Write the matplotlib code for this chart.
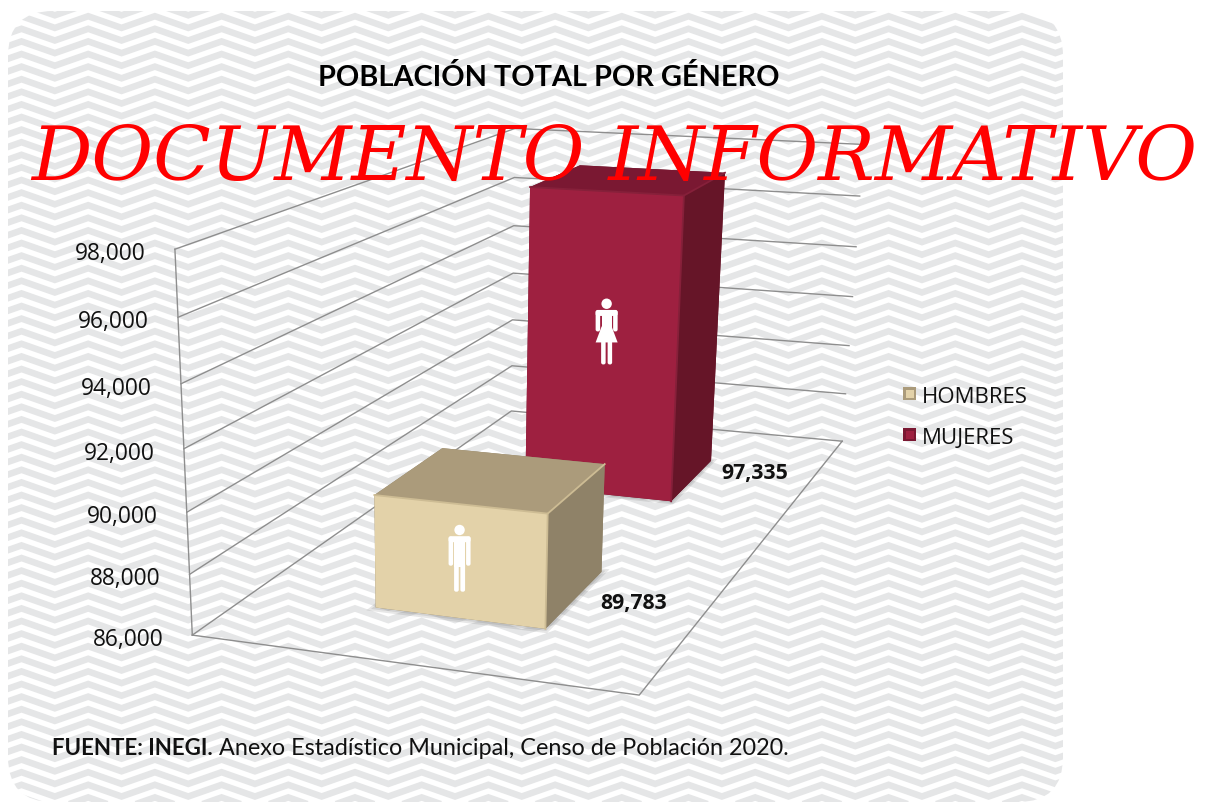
import numpy as np
import matplotlib
matplotlib.use("Agg")
import matplotlib.pyplot as plt
from matplotlib.patches import FancyBboxPatch, Circle, Polygon, Rectangle
from mpl_toolkits.mplot3d import proj3d
from mpl_toolkits.mplot3d.art3d import Poly3DCollection

categories = ["HOMBRES", "MUJERES"]
values = [89783, 97335]
value_labels = ["89,783", "97,335"]
z_ticks = [86000, 88000, 90000, 92000, 94000, 96000, 98000]
z_labels = ["86,000", "88,000", "90,000", "92,000", "94,000", "96,000", "98,000"]
front_colors = ["#E3D2A9", "#9E2040"]
top_colors = ["#AB9B7B", "#7A1832"]
side_colors = ["#8F8268", "#661528"]
bevel_colors = ["#CDBC94", "#86203A"]
title = "POBLACIÓN TOTAL POR GÉNERO"
source_bold = "FUENTE: INEGI."
source_rest = " Anexo Estadístico Municipal, Censo de Población 2020."
stamp = "DOCUMENTO INFORMATIVO"

# bars in axis fractions: one category wide, two series slots deep
x0, x1 = 0.30154, 0.70102
y_spans = [(0.14534, 0.34473), (0.64027, 0.83986)]

plt.rcParams["font.family"] = ["Open Sans", "DejaVu Sans"]

W, H = 1205, 803
fig = plt.figure(figsize=(W / 100, H / 100), dpi=100)
bg = fig.add_axes([0, 0, 1, 1], zorder=0)
bg.set_xlim(0, W)
bg.set_ylim(H, 0)
bg.axis("off")

# zigzag panel behind the chart
panel = FancyBboxPatch((8 + 45, 12 + 45), 1055 - 90, 791 - 90, boxstyle="round,pad=45,rounding_size=45",
                       facecolor="white", edgecolor="none")
bg.add_patch(panel)
zx = np.arange(-1, 36) * 33.35 - 11.85
zy_off = np.where(np.arange(-1, 36) % 2 == 0, 11.7, 0.0)
for y0 in np.arange(4.6 - 12.6 * 2, 830, 12.6):
    ln, = bg.plot(zx, y0 + zy_off, color="#E5E6E7", lw=4.7, solid_joinstyle="miter", zorder=1)
    ln.set_clip_path(panel)

# 3d chart, camera fitted to the reference box
ax = fig.add_axes([-0.03916, 0.03471, 1, 1], projection="3d", zorder=1, computed_zorder=False)
ax.set_axis_off()
ax.patch.set_visible(False)
ax.set_xlim(0, 1, view_margin=0)
ax.set_ylim(0, 1, view_margin=0)
ax.set_zlim(z_ticks[0], z_ticks[-1], view_margin=0)
ax.view_init(elev=16.75952, azim=-71.03744, roll=0)
ax.set_proj_type("persp", focal_length=0.39741)
ax.set_box_aspect((0.81816, 1.57542, 0.82936), zoom=1)
ax.apply_aspect()

# the source picture is stretched sideways, so add that on top of the camera
stretch = np.eye(4)
stretch[0, 0] = 1.20039
stretch[0, 1] = 0.02239
base_proj = ax.get_proj
ax.get_proj = lambda: stretch @ base_proj()

line_kw = dict(color="#8E8E8E", lw=1.0, zorder=1)
for t in z_ticks:
    ax.plot([0, 0, 1], [0, 1, 1], [t, t, t], **line_kw)
ax.plot([0, 1, 1], [0, 0, 1], [z_ticks[0]] * 3, **line_kw)
ax.plot([0, 0], [0, 0], [z_ticks[0], z_ticks[-1]], **line_kw)

for i, val in enumerate(values):
    ya, yb = y_spans[i]
    zb = z_ticks[0]
    base_z = 2 + 3 * (1 - i)
    for m in (0.012, 0.006):
        shadow = Poly3DCollection([[(x0 - m, ya - m, zb), (x1 + m, ya - m, zb),
                                    (x1 + m, yb + m, zb), (x0 - m, yb + m, zb)]],
                                  facecolor="#555555", alpha=0.14, edgecolor="none", zorder=base_z)
        ax.add_collection3d(shadow)
    cols = [side_colors[i], top_colors[i], front_colors[i], side_colors[i], side_colors[i], side_colors[i]]
    ax.bar3d(x0, ya, zb, x1 - x0, yb - ya, val - zb, color=cols, shade=False, zorder=base_z + 1)
    ax.plot([x0, x1, x1], [ya, ya, yb], [val, val, val], color=bevel_colors[i], lw=1.3, zorder=base_z + 2)
    ax.plot([x1, x1], [ya, ya], [zb, val], color=bevel_colors[i], lw=1.3, zorder=base_z + 2)

# tick and value labels sit next to their projected anchors
M = ax.get_proj()
for t, lab in zip(z_ticks, z_labels):
    a, b, _ = proj3d.proj_transform(0, 0, t, M)
    ax.annotate(lab, (a, b), xytext=(-29, -4), textcoords="offset pixels", ha="right", va="center",
                fontsize=16.4, color="#111111", zorder=10)
label_offsets = [(88, 26), (84, 29)]
for i, lab in enumerate(value_labels):
    a, b, _ = proj3d.proj_transform(x1, y_spans[i][0], z_ticks[0], M)
    ax.annotate(lab, (a, b), xytext=label_offsets[i], textcoords="offset pixels", ha="center", va="center",
                fontsize=15.3, fontweight="bold", color="#111111", zorder=10)

# overlay for icons, legend, text
top = fig.add_axes([0, 0, 1, 1], zorder=3)
top.set_xlim(0, W)
top.set_ylim(H, 0)
top.axis("off")


def person(cx, ty, woman=False):
    white = dict(facecolor="white", edgecolor="none")
    rb = "round,pad=0,rounding_size=2"
    top.add_patch(Circle((cx, ty + 5.3), 5.2, **white))
    top.add_patch(FancyBboxPatch((cx - 11, ty + 11.5), 22, 6, boxstyle=rb, **white))
    arm_end = 33 if woman else 41
    for sx in (-11, 6.5):
        top.add_patch(FancyBboxPatch((cx + sx, ty + 12), 4.5, arm_end - 12, boxstyle=rb, **white))
    if woman:
        top.add_patch(Rectangle((cx - 5, ty + 12), 10, 18, **white))
        top.add_patch(Polygon([(cx - 5, ty + 28), (cx + 5, ty + 28), (cx + 11, ty + 44), (cx - 11, ty + 44)], **white))
        for sx in (-5.5, 1):
            top.add_patch(FancyBboxPatch((cx + sx, ty + 42), 4.5, 24, boxstyle=rb, **white))
    else:
        top.add_patch(Rectangle((cx - 5.5, ty + 12), 11, 30, **white))
        for sx in (-5.5, 0.8):
            top.add_patch(FancyBboxPatch((cx + sx, ty + 38), 4.7, 29, boxstyle=rb, **white))


icon_offsets = [(0, -37), (5, -48)]
for i in range(2):
    a, b, _ = proj3d.proj_transform((x0 + x1) / 2, y_spans[i][0], z_ticks[0] + (values[i] - z_ticks[0]) / 2, M)
    px, py = top.transData.inverted().transform(ax.transData.transform((a, b)))
    person(px + icon_offsets[i][0], py + icon_offsets[i][1], woman=i == 1)

for i, (lab, ly) in enumerate(zip(categories, [394.5, 435.5])):
    top.add_patch(Rectangle((903, ly - 6.5), 13, 13, facecolor=top_colors[i], edgecolor="none"))
    top.add_patch(Rectangle((905.5, ly - 4), 8, 8, facecolor=front_colors[i], edgecolor="none"))
    top.text(922, ly + 3, lab, fontsize=16, va="center", ha="left", color="#111111")

top.text(548.5, 78, title, family="Lato", fontsize=20.8, fontweight="bold", ha="center", va="center", color="black")
t1 = top.text(52, 749, source_bold, family="Lato", fontsize=16, fontweight="bold", ha="left", va="center", color="#111111")
top.annotate(source_rest, xy=(1, 0), xycoords=t1, family="Lato", fontsize=16.8, ha="left", va="bottom", color="#111111")
top.text(614, 159, stamp, family="DejaVu Serif", style="italic", fontsize=54.3, color="#FF0000", ha="center", va="center")

fig.savefig("out.png", dpi=100)
